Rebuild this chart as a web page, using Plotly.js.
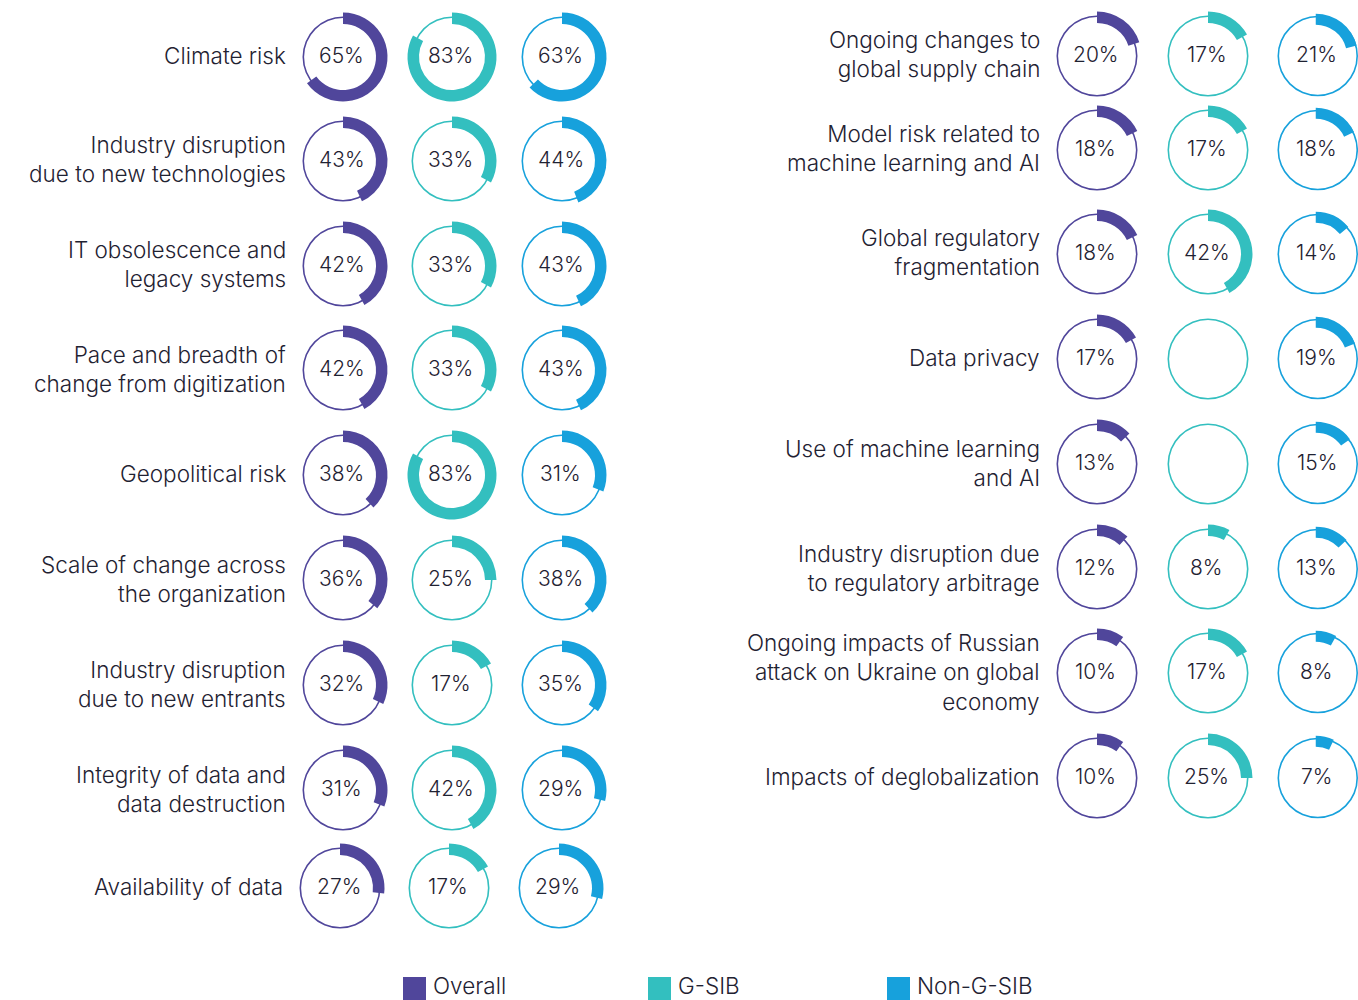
<!DOCTYPE html>
<html><head><meta charset="utf-8">
<script src="https://cdn.plot.ly/plotly-3.0.1.min.js"></script>
<style>html,body{margin:0;padding:0;background:#fff;overflow:hidden}</style>
</head><body><div id="chart" style="width:1358px;height:1000px"></div>
<script>
// ---- data ----
const seriesNames = ['Overall', 'G-SIB', 'Non-G-SIB'];
const seriesColors = ['#50469b', '#33bfbf', '#17a1dc'];

const leftCategories = [
  'Climate risk',
  'Industry disruption<br>due to new technologies',
  'IT obsolescence and<br>legacy systems',
  'Pace and breadth of<br>change from digitization',
  'Geopolitical risk',
  'Scale of change across<br>the organization',
  'Industry disruption<br>due to new entrants',
  'Integrity of data and<br>data destruction',
  'Availability of data'
];
const leftOverall  = [65, 43, 42, 42, 38, 36, 32, 31, 27];
const leftGSIB     = [83, 33, 33, 33, 83, 25, 17, 42, 17];
const leftNonGSIB  = [63, 44, 43, 43, 31, 38, 35, 29, 29];

const rightCategories = [
  'Ongoing changes to<br>global supply chain',
  'Model risk related to<br>machine learning and AI',
  'Global regulatory<br>fragmentation',
  'Data privacy',
  'Use of machine learning<br>and AI',
  'Industry disruption due<br>to regulatory arbitrage',
  'Ongoing impacts of Russian<br>attack on Ukraine on global<br>economy',
  'Impacts of deglobalization'
];
const rightOverall = [20, 18, 18, 17, 13, 12, 10, 10];
const rightGSIB    = [17, 17, 42, null, null, 8, 17, 25];
const rightNonGSIB = [21, 18, 14, 19, 15, 13, 8, 7];

// ---- layout geometry (pixels) ----
const W = 1358, H = 1000;
const panels = [
  {cats: leftCategories, vals: [leftOverall, leftGSIB, leftNonGSIB],
   rowY: [57, 161, 266, 370, 475, 580, 685, 790, 888],
   colX: [343, 452, 562], labelX: 288,
   shiftX: [0, 0, 0, 0, 0, 0, 0, 0, -3]},
  {cats: rightCategories, vals: [rightOverall, rightGSIB, rightNonGSIB],
   rowY: [56, 150, 254, 359, 464, 569, 673, 778],
   colX: [1097, 1208, 1318], labelX: 1042,
   shiftX: [0, 0, 0, 0, 0, 0, 0, 0]}
];
const ringR = 40.5, ringIn = 38.9;     // thin outline ring
const arcR = 44.5, arcIn = 33;         // thick value arc
const textColor = '#1f2232';
const fontFam = 'Inter, Roboto, sans-serif';

function dom(cx, cy, r) {
  return {x: [(cx - r) / W, (cx + r) / W], y: [1 - (cy + r) / H, 1 - (cy - r) / H]};
}
const px = x => x / W, py = y => 1 - y / H;

const traces = [];
const annotations = [];
const shapes = [];

panels.forEach(p => {
  p.cats.forEach((cat, i) => {
    const cy = p.rowY[i];
    annotations.push({
      xref: 'paper', yref: 'paper', x: px(p.labelX + p.shiftX[i]), y: py(cy - 1.5),
      xanchor: 'right', yanchor: 'middle', align: 'right', showarrow: false,
      text: cat, font: {family: fontFam, size: 22.5, weight: 350, color: textColor}
    });
    for (let s = 0; s < 3; s++) {
      const cx = p.colX[s] + p.shiftX[i];
      const v = p.vals[s][i];
      // thin ring
      traces.push({
        type: 'pie', values: [1], labels: ['ring'], sort: false,
        domain: dom(cx, cy, ringR), hole: ringIn / ringR,
        marker: {colors: [seriesColors[s]], line: {width: 0}},
        textinfo: 'none', hoverinfo: 'skip', showlegend: false
      });
      if (v !== null && v !== undefined) {
        traces.push({
          type: 'pie', values: [v, 100 - v], labels: [seriesNames[s], 'rest'],
          sort: false, direction: 'clockwise', rotation: 0,
          domain: dom(cx, cy, arcR), hole: arcIn / arcR,
          marker: {colors: [seriesColors[s], 'rgba(0,0,0,0)'], line: {width: 0}},
          textinfo: 'none', hoverinfo: 'skip', showlegend: false
        });
        annotations.push({
          xref: 'paper', yref: 'paper', x: px(cx - 1.5), y: py(cy - 1.5),
          xanchor: 'center', yanchor: 'middle', showarrow: false,
          text: v + '%', font: {family: fontFam, size: 21, weight: 350, color: textColor}
        });
      }
    }
  });
});

// legend
const legendX = [403, 648, 887];
seriesNames.forEach((n, s) => {
  shapes.push({type: 'rect', xref: 'paper', yref: 'paper',
    x0: px(legendX[s]), x1: px(legendX[s] + 23), y0: py(1000), y1: py(977),
    fillcolor: seriesColors[s], line: {width: 0}});
  annotations.push({xref: 'paper', yref: 'paper', x: px(legendX[s] + 28), y: py(985),
    xanchor: 'left', yanchor: 'middle', showarrow: false, text: n,
    font: {family: fontFam, size: 22.5, weight: 350, color: textColor}});
});

Plotly.newPlot('chart', traces, {
  width: W, height: H, margin: {l: 0, r: 0, t: 0, b: 0},
  paper_bgcolor: '#fff', plot_bgcolor: '#fff', showlegend: false,
  annotations: annotations, shapes: shapes
}, {staticPlot: true});
</script></body></html>
